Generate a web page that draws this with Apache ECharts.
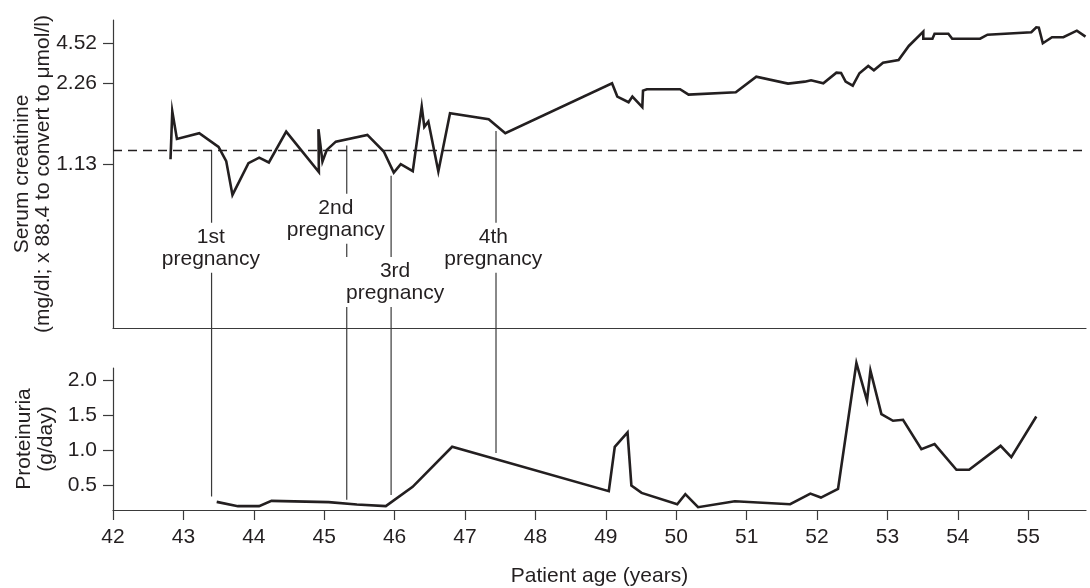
<!DOCTYPE html>
<html><head><meta charset="utf-8">
<script src="https://cdn.jsdelivr.net/npm/echarts@6/dist/echarts.min.js"></script>
<style>html,body{margin:0;padding:0;background:#fff}#c{width:1090px;height:588px}</style>
</head><body><div id="c"></div>
<script>
// ---- data ----
const creatinineAge = [42.817,42.842,42.908,43.225,43.499,43.608,43.697,43.924,44.076,44.214,44.460,44.924,44.918,44.975,45.037,45.165,45.613,45.846,45.988,46.087,46.258,46.385,46.422,46.479,46.621,46.787,47.336,47.572,49.088,49.163,49.323,49.377,49.518,49.528,49.583,50.054,50.175,50.846,51.137,51.588,51.825,51.915,52.089,52.275,52.341,52.406,52.507,52.602,52.727,52.807,52.937,53.158,53.303,53.509,53.509,53.639,53.669,53.865,53.920,54.316,54.421,55.043,55.114,55.150,55.207,55.337,55.498,55.690,55.813];
const creatinineValue = [1.166,1.683,1.340,1.399,1.266,1.152,0.949,1.137,1.178,1.142,1.416,1.077,1.443,1.149,1.240,1.314,1.381,1.226,1.074,1.130,1.083,1.758,1.470,1.536,1.081,1.653,1.567,1.399,2.270,1.946,1.836,1.946,1.748,2.079,2.112,2.112,1.988,2.041,2.474,2.259,2.316,2.358,2.270,2.616,2.604,2.316,2.204,2.593,2.894,2.709,3.054,3.198,4.240,6.352,5.106,5.106,5.938,5.938,5.106,5.106,5.751,6.222,7.5,7.4,4.524,5.315,5.315,6.581,5.409];
const proteinuriaAge = [43.473,43.774,44.075,44.251,45.063,45.464,45.875,46.256,46.817,49.042,49.127,49.308,49.363,49.508,50.014,50.129,50.310,50.832,51.618,51.905,52.055,52.298,52.559,52.710,52.758,52.914,53.079,53.221,53.482,53.669,53.980,54.160,54.607,54.759,55.114];
const proteinuriaValue = [0.262,0.201,0.201,0.277,0.258,0.224,0.201,0.477,1.050,0.415,1.050,1.255,0.496,0.391,0.229,0.372,0.186,0.272,0.229,0.381,0.324,0.448,2.249,1.713,2.143,1.519,1.423,1.437,1.017,1.089,0.721,0.721,1.064,0.903,1.484];
const xTicks = [42,43,44,45,46,47,48,49,50,51,52,53,54,55];
const creatinineTicks = [1.13, 2.26, 4.52];
const proteinuriaTicks = [0.5, 1.0, 1.5, 2.0];
const creatinineLimit = 1.24;
const pregnancyNames = ['1st\npregnancy','2nd\npregnancy','3rd\npregnancy','4th\npregnancy'];
const pregnancyAge = [43.40, 45.32, 45.95, 47.44];
const pregnancyTopCreatinine = [1.24, 1.278, 1.054, 1.424];
const pregnancyBottomProteinuria = [0.338, 0.291, 0.362, 0.960];
const pregnancyLabelAge = [43.39, 45.165, 46.007, 47.402];
const pregnancyLabelCreatinine = [0.744, 0.844, 0.653, 0.744];

// ---- chart ----
const FONT = '"Liberation Sans", Arial, Helvetica, sans-serif';
const INK = '#231f20';
const AX = '#3a3a3a';
const FS = 21;
const chart = echarts.init(document.getElementById('c'), null, {renderer: 'canvas'});
const inv = v => 1 / v;
const txt = {fontFamily: FONT, fontSize: FS, color: INK};

const option = {
  backgroundColor: '#fff',
  animation: false,
  grid: [
    {left: 113, right: 4, top: 20, height: 308, containLabel: false, outerBoundsMode: 'none'},
    {left: 113, right: 4, top: 368, bottom: 78, containLabel: false, outerBoundsMode: 'none'}
  ],
  xAxis: [
    {gridIndex: 0, type: 'value', min: 42, max: 55.82,
     axisLine: {show: true, lineStyle: {color: AX, width: 1.2}},
     axisTick: {show: false}, axisLabel: {show: false}, splitLine: {show: false}},
    {gridIndex: 1, type: 'value', min: 42, max: 55.82,
     name: 'Patient age (years)', nameLocation: 'middle', nameGap: 56, nameMoveOverlap: false,
     nameTextStyle: txt,
     axisLine: {show: true, lineStyle: {color: AX, width: 1.2}},
     axisTick: {show: true, length: 10, customValues: xTicks, lineStyle: {color: AX, width: 1.2}},
     axisLabel: {customValues: xTicks, margin: 17, ...txt, formatter: v => String(Math.round(v))},
     splitLine: {show: false}}
  ],
  yAxis: [
    {gridIndex: 0, type: 'value', inverse: true, min: inv(10.72), max: inv(0.5604),
     name: 'Serum creatinine\n(mg/dl; x 88.4 to convert to \u03bcmol/l)',
     nameLocation: 'middle', nameRotate: 90, nameGap: 59, nameMoveOverlap: false,
     nameTextStyle: {...txt, lineHeight: 21},
     axisLine: {show: true, lineStyle: {color: AX, width: 1.2}},
     axisTick: {show: true, length: 10, customValues: creatinineTicks.map(inv), lineStyle: {color: AX, width: 1.2}},
     axisLabel: {customValues: creatinineTicks.map(inv), margin: 16, ...txt,
       formatter: v => {
         let best = creatinineTicks[0];
         creatinineTicks.forEach(t => { if (Math.abs(inv(t) - v) < Math.abs(inv(best) - v)) best = t; });
         return best.toFixed(2);
       }},
     splitLine: {show: false}},
    {gridIndex: 1, type: 'value', min: 0.146, max: 2.178,
     name: 'Proteinuria\n(g/day)', nameLocation: 'middle', nameRotate: 90, nameGap: 56, nameMoveOverlap: false,
     nameTextStyle: {...txt, lineHeight: 22},
     axisLine: {show: true, lineStyle: {color: AX, width: 1.2}},
     axisTick: {show: true, length: 10, customValues: proteinuriaTicks, lineStyle: {color: AX, width: 1.2}},
     axisLabel: {customValues: proteinuriaTicks, margin: 16, ...txt, formatter: v => v.toFixed(1)},
     splitLine: {show: false}}
  ],
  series: [
    {type: 'line', xAxisIndex: 0, yAxisIndex: 0, clip: false, symbol: 'none',
     lineStyle: {color: INK, width: 2.6, join: 'miter'},
     data: creatinineAge.map((a, i) => [a, inv(creatinineValue[i])]),
     markLine: {silent: true, symbol: 'none', label: {show: false},
       lineStyle: {color: INK, width: 1.4, type: [9, 6]},
       data: [{yAxis: inv(creatinineLimit)}]}},
    {type: 'line', xAxisIndex: 1, yAxisIndex: 1, clip: false, symbol: 'none',
     lineStyle: {color: INK, width: 2.6, join: 'miter'},
     data: proteinuriaAge.map((a, i) => [a, proteinuriaValue[i]])}
  ]
};
chart.setOption(option);

const graphics = [];
pregnancyAge.forEach((a, i) => {
  const p1 = chart.convertToPixel({gridIndex: 0}, [a, inv(pregnancyTopCreatinine[i])]);
  const p2 = chart.convertToPixel({gridIndex: 1}, [a, pregnancyBottomProteinuria[i]]);
  graphics.push({type: 'line', z: 1, silent: true,
    shape: {x1: p1[0], y1: p1[1], x2: p2[0], y2: p2[1]},
    style: {stroke: AX, lineWidth: 1.2}});
});
pregnancyNames.forEach((n, i) => {
  const p = chart.convertToPixel({gridIndex: 0}, [pregnancyLabelAge[i], inv(pregnancyLabelCreatinine[i])]);
  graphics.push({type: 'text', z: 5, silent: true, x: p[0], y: p[1],
    style: {text: n, font: FS + 'px ' + FONT, fill: INK, align: 'center', verticalAlign: 'middle',
      lineHeight: 22, backgroundColor: '#fff', padding: [3, 2]}});
});
chart.setOption({graphic: graphics});
</script>
</body></html>
